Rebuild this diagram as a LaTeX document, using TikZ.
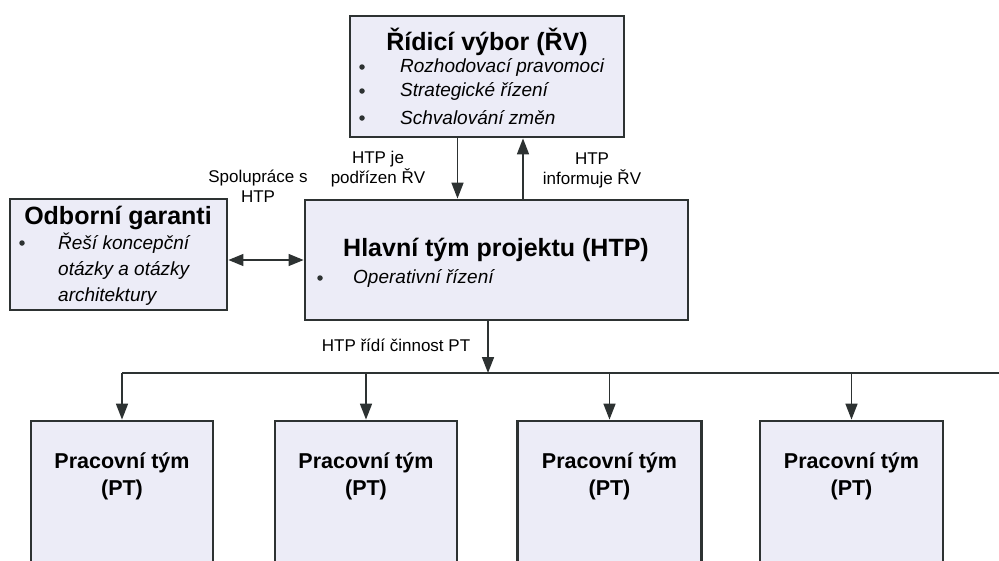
\documentclass[tikz,border=0pt]{standalone}
\usepackage{fontspec}
\setmainfont{Liberation Sans}
\usetikzlibrary{arrows.meta}

\definecolor{boxfill}{RGB}{236,236,247}
\definecolor{linegray}{RGB}{45,50,50}

\tikzset{
	box/.style={draw=linegray, line width=2.8pt, fill=boxfill, inner sep=0pt},
	ttl/.style={font=\bfseries\fontsize{25}{30}\selectfont, inner sep=0pt},
	itm/.style={font=\itshape\fontsize{19}{26}\selectfont, anchor=west, align=left, inner sep=0pt},
	bul/.style={circle, fill=linegray, inner sep=0pt, minimum size=5.5pt},
	lbl/.style={font=\fontsize{17}{20}\selectfont, align=center, inner sep=0pt},
	pttxt/.style={font=\bfseries\fontsize{21.5}{27}\selectfont, align=center, inner sep=0pt},
	conn/.style={draw=linegray, line width=1.7pt, -{Triangle[length=16pt,width=12pt]}},
	busline/.style={draw=linegray, line width=1.7pt}
}

\begin{document}
\begin{tikzpicture}[x=1pt, y=-1pt]
		%%%%% START %%%%%
		\useasboundingbox (0,0) rectangle (999,560);
		\clip (0,0) rectangle (999,560);
		
		% Ridici vybor
		\node[box, minimum width=274pt, minimum height=121pt] (rv) at (487,76.5) {};
		\node[ttl] (rvt) at (487,42) {Řídicí výbor (ŘV)};
		\node[bul] (rvb1) at (362,67) {};
		\node[bul] (rvb2) at (362,91) {};
		\node[bul] (rvb3) at (362,118) {};
		\node[itm] (rvi1) at (400,67) {Rozhodovací pravomoci};
		\node[itm] (rvi2) at (400,91) {Strategické řízení};
		\node[itm] (rvi3) at (400,118) {Schvalování změn};
		
		% Hlavni tym projektu
		\node[box, minimum width=383pt, minimum height=120pt] (htp) at (496.5,260) {};
		\node[ttl] (htpt) at (496,250) {Hlavní tým projektu (HTP)};
		\node[bul] (htpb) at (320,278) {};
		\node[itm] (htpi) at (353,278) {Operativní řízení};
		
		% Odborni garanti
		\node[box, minimum width=217pt, minimum height=111pt] (og) at (118.5,254.5) {};
		\node[ttl] (ogt) at (118,218) {Odborní garanti};
		\node[bul] (ogb) at (22,243) {};
		\node[itm] (ogi) at (58,269) {Řeší koncepční\\otázky a otázky\\architektury};
		
		% Pracovni tymy
		\node[box, minimum width=182pt, minimum height=180pt] (pt1) at (122,511) {};
		\node[box, minimum width=182pt, minimum height=180pt] (pt2) at (366,511) {};
		\node[box, minimum width=184pt, minimum height=180pt] (pt3) at (609.5,511) {};
		\node[box, minimum width=183pt, minimum height=180pt] (pt4) at (851.5,511) {};
		\foreach \i in {1,...,4}
			\node[pttxt] (pt\i t) at ([yshift=-57pt]pt\i.north) {Pracovní tým\\(PT)};
		
		% spojnice
		\draw[conn] ([xshift=-29.5pt]rv.south) -- ([xshift=-29.5pt]rv.south |- htp.north);
		\draw[conn] ([xshift=36pt]rv.south |- htp.north) -- ([xshift=36pt]rv.south);
		\draw[conn, line width=1.2pt, {Triangle[length=15pt,width=12pt]}-{Triangle[length=15pt,width=12pt]}] (og.east |- htp.west) -- (htp.west);
		
		\coordinate (busL) at (122,373);
		\coordinate (busR) at (1010,373);
		\draw[busline] (busL) -- (busR);
		\draw[conn] ([xshift=-8.5pt]htp.south) -- ([xshift=-8.5pt]htp.south |- busL);
		\foreach \i in {1,...,4}
			\draw[conn] (pt\i.north |- busL) -- (pt\i.north);
		
		% popisky
		\node[lbl] (lrv) at (378,169) {HTP je\\podřízen ŘV};
		\node[lbl] (linf) at (592,170) {HTP\\informuje ŘV};
		\node[lbl] (lspol) at (258,186) {Spolupráce s\\HTP};
		\node[lbl] (lpt) at (396,345) {HTP řídí činnost PT};
		
		%%%%% END %%%%%
	\end{tikzpicture}
\end{document}
